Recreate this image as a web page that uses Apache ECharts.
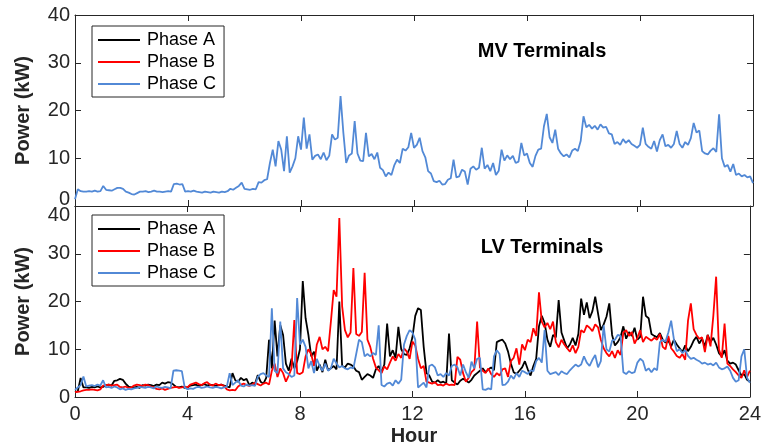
<!DOCTYPE html>
<html>
<head>
<meta charset="utf-8">
<title>MV / LV terminal power</title>
<script src="https://cdn.jsdelivr.net/npm/echarts@6/dist/echarts.min.js"></script>
<style>
  html, body { margin: 0; padding: 0; background: #fff; }
  #chart { width: 764px; height: 448px; }
</style>
</head>
<body>
<div id="chart"></div>
<script>
// sample times: every 0.1 h from 0 to 24
const hours = Array.from({ length: 241 }, (_, i) => i / 10);
const hourTicks = [0, 4, 8, 12, 16, 20, 24];
const powerTicks = [0, 10, 20, 30, 40];
const phaseNames = ["Phase A", "Phase B", "Phase C"];

// MV terminals: the three phases lie on top of each other, only C shows
const mvPower = [
  1.4, 3.5, 3.1, 3.0, 3.0, 3.1, 3.0, 3.2, 3.0, 3.1,
  4.2, 3.4, 3.3, 3.2, 3.5, 3.8, 3.8, 3.6, 3.0, 2.8,
  2.5, 2.4, 2.7, 3.0, 3.0, 3.1, 2.9, 3.0, 3.2, 3.0,
  3.0, 2.9, 3.0, 3.1, 3.0, 4.6, 4.7, 4.5, 4.6, 3.0,
  3.1, 3.0, 3.2, 3.0, 2.9, 2.8, 3.0, 2.9, 2.8, 3.0,
  2.9, 2.8, 3.0, 2.9, 3.1, 3.6, 3.4, 3.8, 4.2, 4.9,
  3.6, 3.5, 3.4, 3.6, 3.5, 5.0, 4.9, 5.4, 5.6, 9.0,
  11.8, 8.3, 13.6, 11.8, 7.3, 14.6, 7.0, 8.3, 10.0, 14.6,
  11.8, 18.5, 12.0, 15.0, 9.7, 10.5, 10.8, 9.8, 11.2, 9.6,
  10.5, 15.0, 13.9, 14.3, 23.0, 15.3, 9.0, 10.6, 11.0, 17.8,
  11.0, 9.5, 9.4, 15.3, 10.4, 10.9, 9.8, 11.2, 8.0, 7.5,
  6.2, 7.0, 6.5, 8.5, 9.7, 9.0, 12.0, 11.6, 12.3, 15.3,
  12.2, 12.8, 14.3, 11.5, 10.2, 7.3, 6.8, 5.2, 5.0, 5.3,
  4.5, 4.6, 5.5, 5.8, 9.7, 6.0, 6.2, 7.6, 7.2, 4.5,
  7.8, 8.3, 7.6, 8.0, 12.2, 7.8, 8.6, 7.3, 9.0, 6.5,
  7.4, 11.8, 9.5, 10.6, 9.8, 10.5, 9.0, 9.3, 13.2, 10.6,
  11.0, 9.0, 8.2, 10.5, 11.8, 12.0, 16.7, 19.3, 14.4, 13.2,
  16.0, 12.0, 11.0, 10.4, 10.8, 10.2, 11.6, 12.0, 11.5, 13.6,
  18.8, 16.5, 17.0, 16.2, 16.8, 16.0, 17.1, 16.4, 16.6, 15.2,
  15.0, 13.0, 13.4, 12.8, 14.0, 13.2, 13.8, 13.0, 12.6, 12.2,
  12.8, 16.4, 13.0, 12.4, 12.0, 13.6, 11.4, 13.8, 15.0, 12.5,
  12.8, 12.2, 13.0, 15.7, 13.0, 12.2, 13.4, 12.8, 14.2, 17.4,
  15.4, 15.8, 11.5, 11.0, 10.8, 11.6, 12.1, 11.3, 19.2, 10.0,
  8.2, 8.6, 7.2, 8.8, 6.5, 6.8, 6.2, 6.5, 6.0, 6.2,
  4.8
];

// LV terminals
const lvPhaseA = [
  1.0, 1.2, 4.0, 2.0, 2.0, 1.9, 2.1, 2.0, 2.2, 2.0,
  2.1, 2.5, 2.6, 2.4, 3.4, 3.5, 3.8, 3.6, 2.8, 2.2,
  2.0, 2.0, 2.1, 1.9, 2.5, 2.4, 2.6, 2.5, 2.3, 2.6,
  2.5, 3.0, 2.8, 3.1, 3.0, 2.6, 2.1, 2.0, 2.2, 1.9,
  2.0, 2.4, 2.5, 2.6, 2.3, 2.5, 2.7, 2.4, 2.6, 2.5,
  2.3, 2.5, 2.6, 2.4, 2.2, 2.0, 5.0, 3.5, 3.2, 4.0,
  3.5, 3.8, 2.5, 3.0, 2.7, 4.6, 3.2, 2.8, 4.0, 12.0,
  6.0, 16.0, 8.5, 15.0, 13.0, 7.0, 5.5, 8.0, 6.0, 7.5,
  10.0, 24.3, 16.5, 13.0, 8.5, 9.5, 5.5, 6.8, 5.2, 7.8,
  5.6, 6.0, 6.5, 5.8, 20.0, 6.5, 6.2, 7.0, 6.8, 6.4,
  5.5, 5.2, 3.6, 4.2, 4.8, 4.5, 4.0, 5.8, 6.5, 5.2,
  6.8, 15.4, 8.5, 9.8, 8.2, 14.7, 10.0, 9.0, 8.8, 10.2,
  12.5, 17.0, 18.6, 18.2, 10.5, 5.0, 4.5, 3.2, 3.0, 3.5,
  3.0, 3.2, 2.8, 13.3, 3.5, 3.0, 2.6, 3.4, 3.8, 3.5,
  3.0, 3.6, 4.5, 5.0, 5.5, 6.0, 5.2, 5.8, 6.2, 5.6,
  11.5, 11.8, 12.0, 11.2, 9.5, 7.0, 5.2, 4.8, 5.5, 6.2,
  7.5, 5.8, 4.5, 6.5, 8.0, 14.8, 17.0, 15.5, 12.0, 10.5,
  13.0, 12.5, 20.3, 13.5, 11.8, 10.2, 11.0, 12.4, 10.8, 13.2,
  20.6, 17.2, 19.8, 16.5, 18.0, 21.0, 17.5, 14.0, 15.2, 16.8,
  19.6, 13.0, 10.8, 11.5, 12.5, 14.8, 12.2, 13.6, 12.8, 14.5,
  12.0, 12.6, 21.0, 17.0, 16.5, 13.2, 12.8, 12.5, 13.4, 12.0,
  11.4, 11.8, 10.6, 12.0, 11.0, 10.2, 9.4, 10.8, 9.6, 10.5,
  11.8, 12.6, 11.2, 12.2, 10.6, 13.0, 11.5, 12.4, 11.0, 9.2,
  8.5, 9.8, 7.6, 7.0, 7.2, 6.8, 5.6, 4.5, 4.8, 3.6,
  3.2
];

const lvPhaseB = [
  1.0, 1.1, 1.2, 1.4, 1.5, 1.5, 1.6, 1.5, 1.4, 1.6,
  2.4, 2.5, 2.6, 2.4, 2.5, 2.6, 2.1, 2.0, 2.2, 1.9,
  2.0, 2.4, 2.6, 2.5, 2.3, 2.6, 2.5, 2.2, 2.0, 1.7,
  1.6, 1.8, 1.5, 1.7, 1.9, 2.0, 2.1, 1.9, 2.0, 2.2,
  2.0, 2.6, 2.8, 3.0, 2.7, 2.5, 2.9, 3.1, 2.6, 2.4,
  2.8, 2.5, 2.6, 2.3, 1.6, 1.4, 1.5, 1.4, 2.2, 2.6,
  2.8, 2.5, 2.3, 2.6, 3.0, 2.7, 2.4, 2.8, 3.0, 2.6,
  5.5, 7.0, 4.2, 6.0, 5.0, 3.2, 4.5, 6.0, 16.1, 5.0,
  4.8, 5.2, 8.5, 10.0, 9.0, 6.5, 11.0, 12.6, 10.0, 10.5,
  9.6, 15.8, 22.4, 21.0, 37.5, 19.0, 14.0, 12.5, 13.5, 27.0,
  13.2, 12.8, 13.6, 26.0, 12.0, 10.5, 8.0, 6.2, 5.6, 5.0,
  6.4, 5.8, 7.2, 8.5, 7.6, 9.0, 8.2, 10.2, 9.5, 8.0,
  11.6, 10.8, 8.0, 6.0, 6.5, 3.2, 3.0, 2.8, 3.1, 2.5,
  2.6, 2.4, 2.8, 2.5, 2.6, 2.5, 8.4, 7.8, 5.0, 3.2,
  4.0, 5.2, 5.8, 15.8, 6.2, 5.5, 5.0, 6.0, 4.8, 4.2,
  5.0, 4.5, 5.8, 6.0, 4.2, 7.5, 8.2, 10.2, 6.8, 11.0,
  9.8, 12.0, 11.5, 14.4, 12.8, 21.9, 15.8, 14.6, 15.5, 14.2,
  15.8, 11.5, 10.4, 12.0, 11.0, 10.2, 9.5, 10.8, 9.2, 10.5,
  14.0, 13.5, 15.0, 14.5, 13.8, 15.2, 14.6, 12.0, 10.2, 9.2,
  8.5, 9.6, 8.2, 9.8, 8.8, 13.5, 14.0, 12.8, 13.6, 11.2,
  12.4, 14.0, 11.5, 12.6, 12.2, 11.8, 12.4, 12.0, 13.2, 10.5,
  10.0, 12.8, 10.2, 9.5, 8.6, 8.2, 9.0, 7.8, 16.0, 19.6,
  14.2, 13.0, 12.2, 12.5, 9.4, 13.0, 10.6, 17.0, 25.2, 10.0,
  8.2, 15.4, 7.0, 6.5, 5.8, 5.2, 4.5, 4.0, 5.6, 4.2,
  5.5
];

const lvPhaseC = [
  1.5, 2.0, 2.5, 4.3, 2.2, 2.4, 2.5, 2.3, 2.6, 2.4,
  3.5, 2.0, 2.1, 1.9, 2.2, 2.0, 1.6, 1.8, 1.5, 1.7,
  1.6, 1.8, 1.9, 2.1, 2.0, 1.9, 2.1, 2.0, 1.8, 2.2,
  2.0, 1.9, 2.1, 2.0, 1.8, 5.5, 5.6, 5.5, 5.4, 2.0,
  1.6, 1.8, 1.7, 2.0, 2.1, 1.9, 2.0, 2.2, 2.0, 1.9,
  2.1, 2.0, 1.8, 2.0, 2.2, 5.0, 2.5, 3.0, 3.5, 2.4,
  2.2, 2.6, 2.4, 2.5, 2.3, 4.2, 4.8, 5.0, 4.5, 4.2,
  18.6, 5.5, 5.0, 15.8, 6.0, 5.2, 4.8, 4.2, 4.5, 20.7,
  11.0, 12.0, 10.5, 6.0, 7.5, 5.0, 8.0, 6.5, 5.5, 7.0,
  5.5, 6.0, 8.0, 7.0, 6.2, 6.5, 6.0, 5.8, 6.2, 6.0,
  9.0, 12.0, 11.5, 8.5, 9.0, 8.5, 9.2, 8.8, 15.0, 2.5,
  2.2, 2.8, 3.0, 2.4, 3.5, 2.8, 3.6, 11.0, 12.8, 14.0,
  13.5, 12.0, 2.0, 2.5, 3.0, 2.0, 6.5, 6.8, 6.2, 4.5,
  4.8, 4.2, 5.0, 4.5, 6.5, 6.8, 6.2, 4.5, 6.8, 5.2,
  4.0, 7.4, 6.0, 8.0, 8.2, 1.6, 1.5, 1.8, 1.6, 8.5,
  9.8, 9.0, 2.5, 2.6, 3.2, 4.5, 3.8, 5.0, 4.2, 5.5,
  5.2, 4.8, 5.6, 5.4, 7.5, 8.2, 7.2, 14.0, 5.5, 4.8,
  5.0, 5.2, 4.6, 5.4, 5.0, 4.8, 5.6, 6.2, 6.8, 6.4,
  6.8, 8.5, 7.2, 6.5, 7.8, 8.8, 6.2, 7.5, 15.0, 10.0,
  9.5, 11.8, 12.0, 13.0, 12.8, 5.2, 4.8, 5.4, 5.0, 5.2,
  7.2, 8.0, 7.5, 5.5, 6.0, 5.2, 6.0, 5.6, 11.5, 12.0,
  11.6, 13.5, 16.0, 12.0, 9.6, 10.0, 9.2, 9.8, 8.6, 8.0,
  8.2, 7.8, 7.5, 7.0, 7.2, 6.8, 7.0, 6.6, 7.2, 6.2,
  5.8, 6.0, 6.4, 5.5, 4.0, 3.2, 3.5, 8.5, 10.0, 4.0,
  3.0
];

const phaseColors = ["#000000", "#ff0000", "#5289d6"];
const FONT = "Liberation Sans, Arial, Helvetica, sans-serif";
const AXIS_COLOR = "#262626";

const chart = echarts.init(document.getElementById("chart"));

function pairs(values) {
  return values.map((v, i) => [hours[i], v]);
}

function xAxisFor(gridIndex, position, showLabels) {
  return {
    type: "value",
    gridIndex: gridIndex,
    position: position,
    min: hourTicks[0],
    max: hourTicks[hourTicks.length - 1],
    interval: 4,
    axisLine: { show: true, onZero: false, lineStyle: { color: AXIS_COLOR, width: 1 } },
    axisTick: { show: true, inside: true, length: 6, lineStyle: { color: AXIS_COLOR } },
    axisLabel: {
      show: showLabels,
      margin: 7,
      color: AXIS_COLOR,
      fontSize: 20,
      fontFamily: FONT,
    },
    splitLine: { show: false },
  };
}

function yAxisFor(gridIndex, position, showLabels, shifted) {
  // shifted: which end label sits off its tick, as in the reference
  const rich = {
    lo: { padding: [0, 0, 14, 0], fontSize: 20, fontFamily: FONT, color: AXIS_COLOR },
    hi: { padding: [18, 0, 0, 0], fontSize: 20, fontFamily: FONT, color: AXIS_COLOR },
  };
  return {
    type: "value",
    gridIndex: gridIndex,
    position: position,
    min: powerTicks[0],
    max: powerTicks[powerTicks.length - 1],
    interval: 10,
    name: showLabels ? "Power (kW)" : "",
    nameLocation: "middle",
    nameGap: 42,
    nameTextStyle: { fontSize: 20, fontWeight: "bold", fontFamily: FONT, color: AXIS_COLOR },
    axisLine: { show: true, onZero: false, lineStyle: { color: AXIS_COLOR, width: 1 } },
    axisTick: { show: true, inside: true, length: 6, lineStyle: { color: AXIS_COLOR } },
    axisLabel: {
      show: showLabels,
      margin: 5,
      color: AXIS_COLOR,
      fontSize: 20,
      fontFamily: FONT,
      rich: rich,
      formatter: (v) => {
        if (shifted === "bottom" && v === powerTicks[0]) return "{lo|" + v + "}";
        if (shifted === "top" && v === powerTicks[powerTicks.length - 1]) return "{hi|" + v + "}";
        return String(v);
      },
    },
    splitLine: { show: false },
  };
}

function lineSeries(name, values, axisIndex, color) {
  return {
    name: name,
    type: "line",
    xAxisIndex: axisIndex,
    yAxisIndex: axisIndex,
    data: pairs(values),
    showSymbol: false,
    symbol: "none",
    lineStyle: { color: color, width: 1.8 },
    itemStyle: { color: color },
    emphasis: { disabled: true },
    animation: false,
  };
}

function legendAt(top) {
  return {
    data: phaseNames,
    orient: "vertical",
    left: 92,
    top: top,
    selectedMode: false,
    icon: "rect",
    itemWidth: 42,
    itemHeight: 2,
    itemGap: 4,
    padding: [5, 8, 4, 6],
    borderColor: AXIS_COLOR,
    borderWidth: 1,
    backgroundColor: "#fff",
    textStyle: { fontSize: 18, fontFamily: FONT, color: "#000", padding: [0, 0, 0, 2] },
  };
}

const options = {
  animation: false,
  backgroundColor: "#fff",
  grid: [
    { left: 75, right: 11, top: 15, height: 191 },
    { left: 75, right: 11, top: 206, height: 191 },
  ],
  xAxis: [
    xAxisFor(0, "bottom", false),
    xAxisFor(1, "bottom", true),
    xAxisFor(0, "top", false),
    xAxisFor(1, "top", false),
  ],
  yAxis: [
    yAxisFor(0, "left", true, "bottom"),
    yAxisFor(1, "left", true, "top"),
    yAxisFor(0, "right", false, null),
    yAxisFor(1, "right", false, null),
  ],
  legend: [legendAt(26), legendAt(215)],
  series: [
    // LV panel first so the legend swatches take these colours
    lineSeries("Phase A", lvPhaseA, 1, phaseColors[0]),
    lineSeries("Phase B", lvPhaseB, 1, phaseColors[1]),
    lineSeries("Phase C", lvPhaseC, 1, phaseColors[2]),
    // MV panel: phases A and B are hidden under C in the figure
    lineSeries("Phase C", mvPower, 0, phaseColors[2]),
  ],
  graphic: [
    {
      type: "text",
      x: 542,
      y: 51,
      style: { text: "MV Terminals", fontSize: 20, fontWeight: "bold", fontFamily: FONT,
        fill: "#000", textAlign: "center", textVerticalAlign: "middle" },
    },
    {
      type: "text",
      x: 542,
      y: 247,
      style: { text: "LV Terminals", fontSize: 20, fontWeight: "bold", fontFamily: FONT,
        fill: "#000", textAlign: "center", textVerticalAlign: "middle" },
    },
    {
      type: "text",
      x: 414,
      y: 436,
      style: { text: "Hour", fontSize: 20, fontWeight: "bold", fontFamily: FONT,
        fill: AXIS_COLOR, textAlign: "center", textVerticalAlign: "middle" },
    },
  ],
};

chart.setOption(options);
</script>
</body>
</html>
